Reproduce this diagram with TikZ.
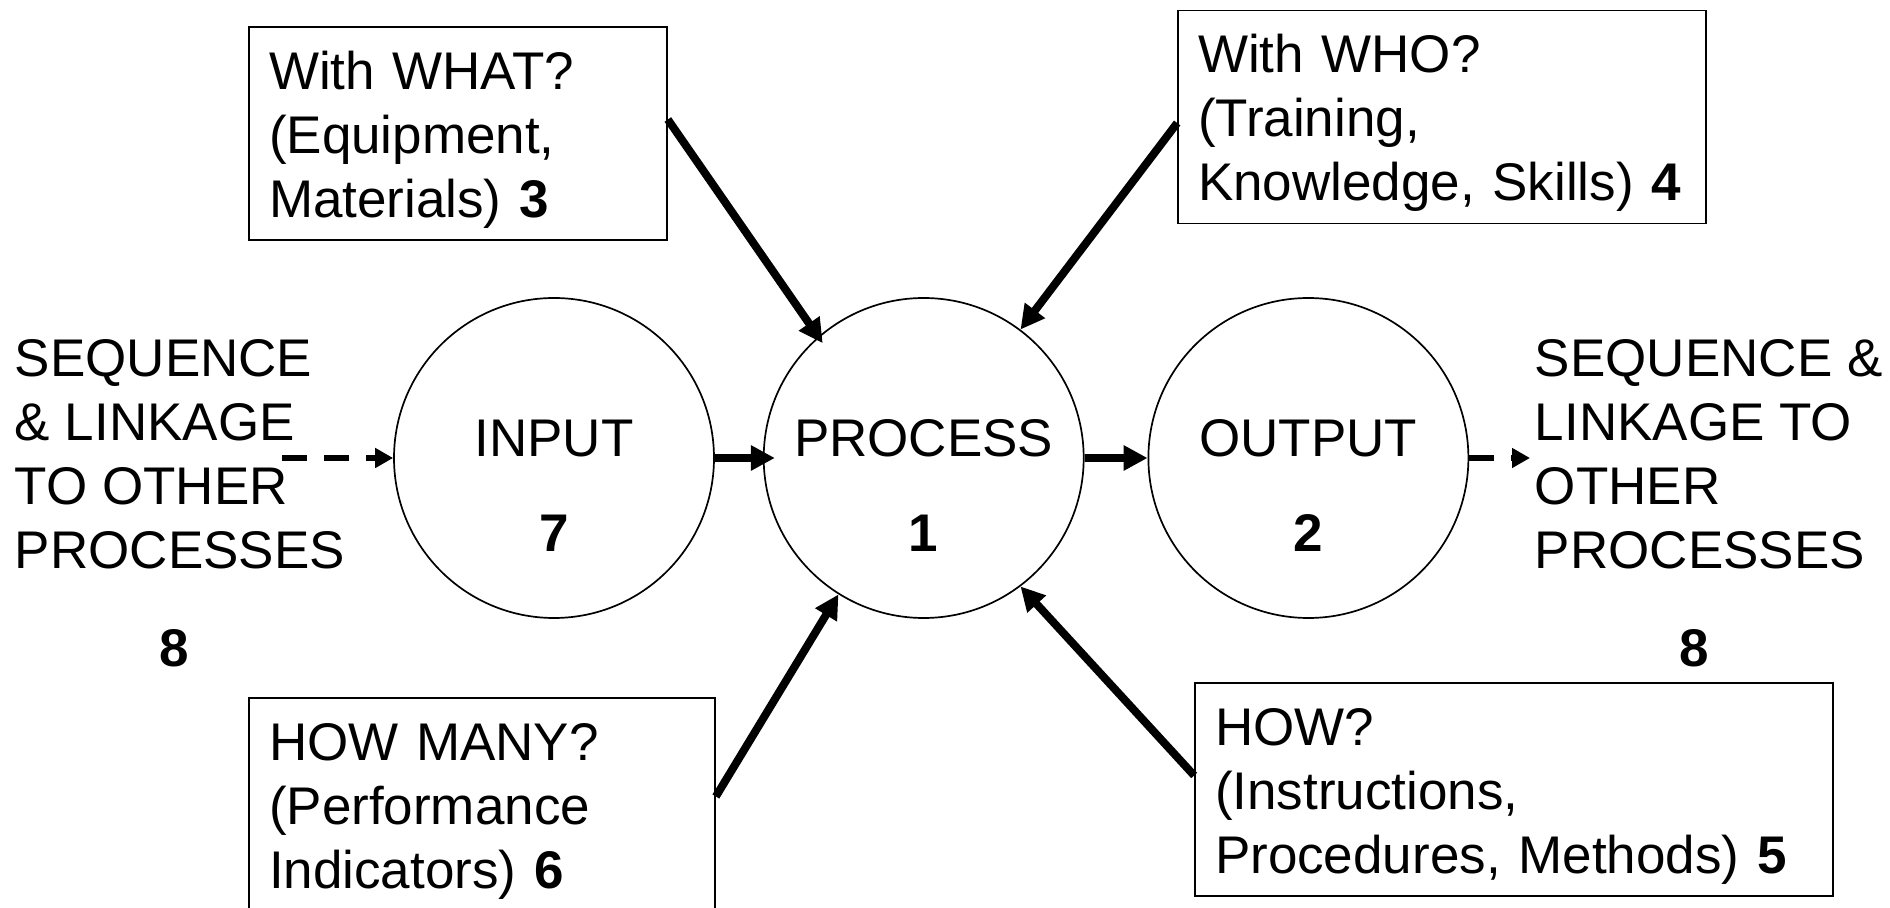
\documentclass[tikz,border=0pt]{standalone}
\usepackage{fontspec}
\setmainfont{Liberation Sans}
\usetikzlibrary{arrows.meta, positioning}
\newcommand{\diagfont}{\fontsize{26.5}{32}\selectfont}
\tikzset{
  stage/.style={circle, draw, line width=0.85pt, minimum size=160pt, inner sep=0pt},
  stagetext/.style={align=center, yshift=-13.75pt},
  askbox/.style={rectangle, draw, line width=0.85pt, align=left, minimum height=106.5pt, inner xsep=10pt,
    execute at begin node={\rule{0pt}{25pt}}},
  side/.style={align=left, inner sep=0pt, anchor=west},
  num/.style={font=\diagfont\bfseries},
  arrow/.style={-{Triangle[length=12pt, width=12pt]}, line width=4pt},
  link/.style={-{Triangle[length=9pt, width=9.5pt]}, line width=3pt, dash pattern=on 12.5pt off 8.5pt},
}
\begin{document}
\begin{tikzpicture}[x=0.5pt, y=-0.5pt, every node/.style={font=\diagfont}]
  \useasboundingbox[fill=white] (0,0) rectangle (1890,908);
  % the three stages
  \node[stage] (input) at (554,458) {};
  \node[stage, right=24pt of input] (process) {};
  \node[stage, right=31.5pt of process] (output) {};
  \node[stagetext] (inputlbl) at (input.center) {INPUT\\[15.5pt]\textbf{7}};
  \node[stagetext] (processlbl) at (process.center) {PROCESS\\[15.5pt]\textbf{1}};
  \node[stagetext] (outputlbl) at (output.center) {OUTPUT\\[15.5pt]\textbf{2}};
  % questions round the process
  \node[askbox, text width=189pt] (what) at (458,133.5) {With WHAT?\\(Equipment,\\Materials) \textbf{3}};
  \node[askbox, text width=244pt] (who) at (1442,117) {With WHO?\\(Training,\\Knowledge, Skills) \textbf{4}};
  \node[askbox, text width=213pt] (howmany) at (482,804.5) {HOW MANY?\\(Performance\\Indicators) \textbf{6}};
  \node[askbox, text width=299pt] (how) at (1514,789.5) {HOW?\\(Instructions,\\Procedures, Methods) \textbf{5}};
  % linkage to other processes
  \node[side] (seqin) at (14.5,454) {SEQUENCE\\\& LINKAGE\\TO OTHER\\PROCESSES};
  \node[side] (seqout) at (1534.5,454) {SEQUENCE \&\\LINKAGE TO\\OTHER\\PROCESSES};
  \node[num] (seqinnum) at (174,648.5) {8};
  \node[num] (seqoutnum) at (1694,648.5) {8};
  \coordinate (linkin) at (282,458);
  \coordinate (linkout) at (1530,458);
  \draw[link] (linkin) -- (input);
  \draw[link] (output) -- (linkout);
  \draw[arrow, shorten >=-6pt] (input) -- (process);
  \draw[arrow] (process) -- (output);
  \draw[arrow, shorten >=-4pt] ([yshift=7pt]what.east) -- (process.131);
  \draw[arrow] ([yshift=-3pt]who.west) -- (process.53);
  \draw[arrow] ([yshift=4pt]howmany.east) -- (process.-122);
  \draw[arrow] ([yshift=7pt]how.west) -- (process.-53);
\end{tikzpicture}
\end{document}
